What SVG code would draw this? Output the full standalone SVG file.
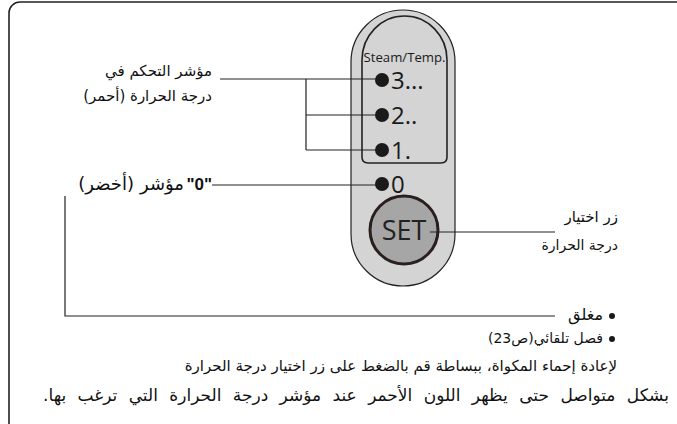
<svg xmlns="http://www.w3.org/2000/svg" width="677" height="424" viewBox="0 0 677 424">
<style>
.ar{font-family:"DejaVu Sans",sans-serif;font-size:15px;fill:#111;direction:rtl}
.ln{stroke:#222;stroke-width:1.2;fill:none}
.dot{fill:#1a1a1a}
.dig{font-family:"Open Sans","Liberation Sans",sans-serif;font-size:24px;fill:#1a1a1a}
</style>
<rect width="677" height="424" fill="#fff"/>
<path d="M9,430 L9,13 A11,11 0 0 1 20,2 L680,2" fill="none" stroke="#222" stroke-width="1.6"/>
<g id="panel">
  <rect x="351" y="10" width="104" height="276" rx="52" ry="52" fill="#d4d4d4" stroke="#222" stroke-width="1.2"/>
  <path d="M362,60 A42.5,44 0 0 1 447,60 L447,157 Q447,163 441,163 L368,163 Q362,163 362,157 Z" fill="none" stroke="#222" stroke-width="1.6"/>
  <text x="404.5" y="62" text-anchor="middle" font-family="'Open Sans','Liberation Sans',sans-serif" font-size="13" fill="#1a1a1a" textLength="82" lengthAdjust="spacingAndGlyphs">Steam/Temp.</text>
</g>
<g id="led3"><circle class="dot" cx="382" cy="80" r="7"/><text class="dig" x="391" y="89">3...</text></g>
<g id="led2"><circle class="dot" cx="382" cy="115" r="7"/><text class="dig" x="391" y="124">2..</text></g>
<g id="led1"><circle class="dot" cx="382" cy="150" r="7"/><text class="dig" x="391" y="159">1.</text></g>
<g id="led0"><circle class="dot" cx="382" cy="184" r="7"/><text class="dig" x="391" y="193">0</text></g>
<g id="set">
  <circle cx="404" cy="230" r="34" fill="#a6a6a6" stroke="#2a1f1f" stroke-width="3"/>
  <text x="404" y="240" text-anchor="middle" font-family="'Open Sans','Liberation Sans',sans-serif" font-size="27" fill="#222">SET</text>
</g>
<g id="connectors">
  <path class="ln" d="M220,79 H376 M306,79 V150 M306,115 H376 M306,150 H376"/>
  <path class="ln" d="M212,185 H376"/>
  <path class="ln" d="M430,232 H555"/>
  <path class="ln" d="M65,196 V316 H555"/>
</g>
<g id="label-temp">
  <text class="ar" x="212" y="76">مؤشر التحكم في</text>
  <text class="ar" x="212" y="101">درجة الحرارة (أحمر)</text>
</g>
<g id="label-zero">
  <text x="212" y="190" text-anchor="end" font-family="'Liberation Sans',sans-serif" font-weight="bold" font-size="17" fill="#111">"0"</text>
  <text class="ar" x="184" y="190" style="font-size:18px">مؤشر</text>
  <text class="ar" x="134" y="190" style="font-size:18px">(أخضر)</text>
</g>
<g id="label-set">
  <text class="ar" x="618" y="222">زر اختيار</text>
  <text class="ar" x="618" y="250" style="font-size:14px">درجة الحرارة</text>
</g>
<g id="notes">
  <circle class="dot" cx="612" cy="316" r="3"/>
  <text class="ar" x="603" y="320" style="font-size:16px">مغلق</text>
  <circle class="dot" cx="612" cy="339" r="3"/>
  <text class="ar" x="603" y="343" style="font-size:14px">فصل تلقائي(ص23)</text>
  <text class="ar" x="617" y="371">لإعادة إحماء المكواة، ببساطة قم بالضغط على زر اختيار درجة الحرارة</text>
  <text class="ar" x="669" y="401" style="font-size:17px;word-spacing:6px">بشكل متواصل حتى يظهر اللون الأحمر عند مؤشر درجة الحرارة التي ترغب بها.</text>
</g>
</svg>
